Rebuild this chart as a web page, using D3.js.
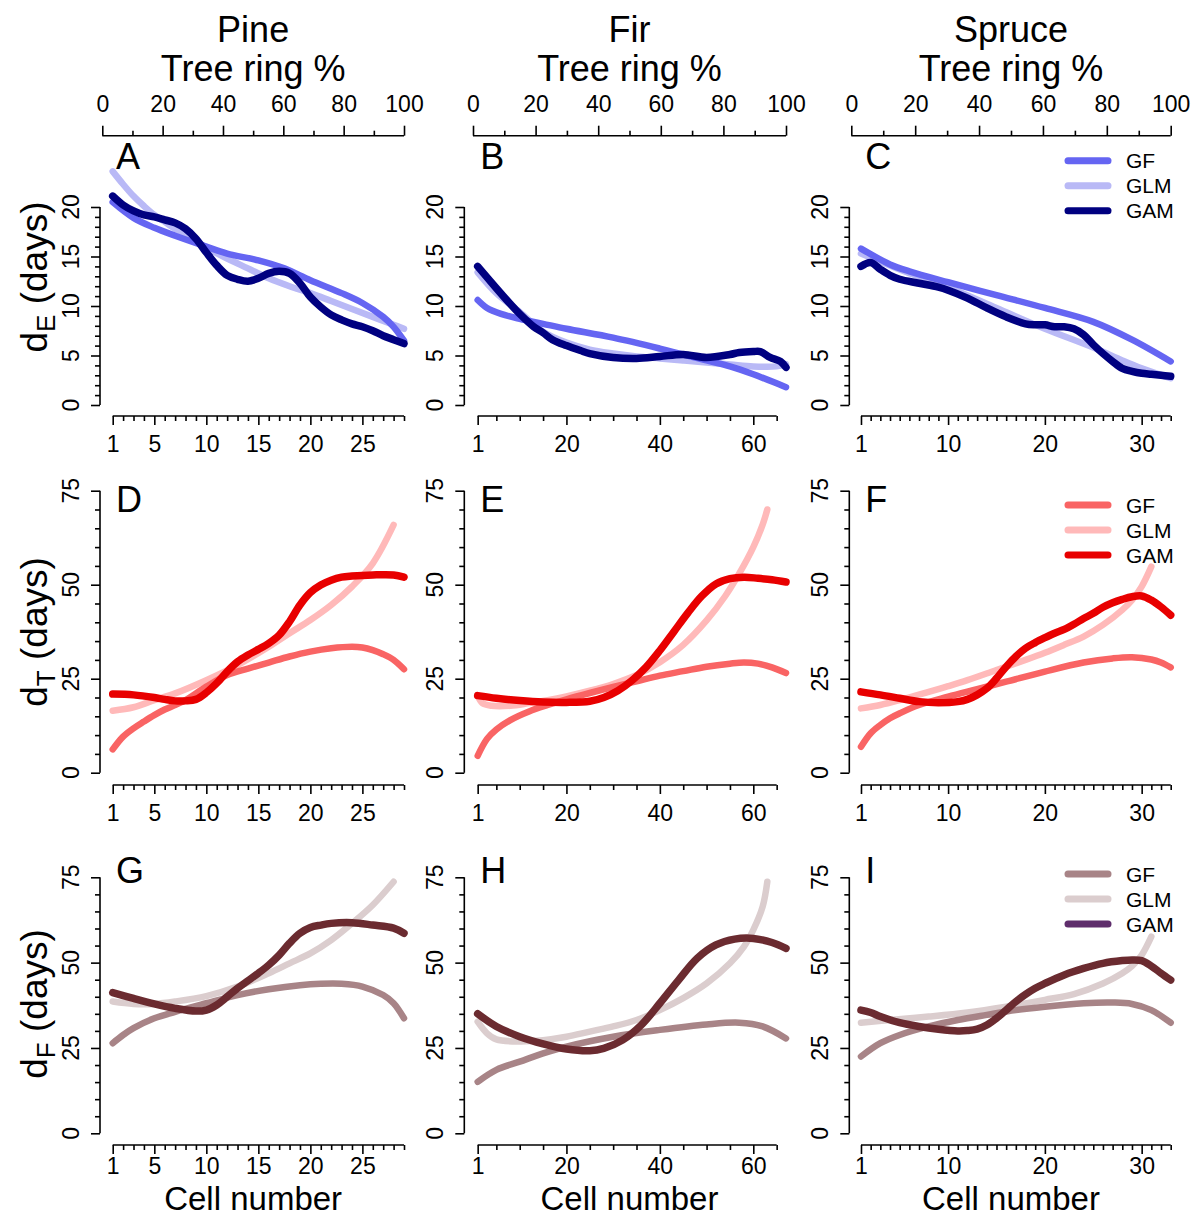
<!DOCTYPE html>
<html><head><meta charset="utf-8">
<script src="https://cdn.jsdelivr.net/npm/d3@7"></script>
<style>
body{margin:0;background:#fff}
svg{display:block}
text{font-family:"Liberation Sans",Arial,Helvetica,sans-serif;fill:#000}
</style>
</head><body>
<svg id="chart" width="1194" height="1218"></svg>
<script>
// ---------- categories / ticks ----------
const species = ["Pine", "Fir", "Spruce"];
const cellCounts = [29, 67, 33];
const panelLetters = [["A","B","C"],["D","E","F"],["G","H","I"]];
const rowVars = ["E", "T", "F"];
const seriesNames = ["GF", "GLM", "GAM"];
const pctMajor = [0, 20, 40, 60, 80, 100];
const pctMinor = [10, 30, 50, 70, 90];
const cellMajor = [[1,5,10,15,20,25],[1,20,40,60],[1,10,20,30]];
const cellMinor = [
  [2,3,4,6,7,8,9,11,12,13,14,16,17,18,19,21,22,23,24,26,27,28,29],
  [5,10,15,25,30,35,45,50,55,65],
  [2,3,4,5,6,7,8,9,11,12,13,14,15,16,17,18,19,21,22,23,24,25,26,27,28,29,31,32,33]
];
const yMajor = [[0,5,10,15,20],[0,25,50,75],[0,25,50,75]];
const yMinor = [
  [1,2,3,4,6,7,8,9,11,12,13,14,16,17,18,19],
  [5,10,15,20,30,35,40,45,55,60,65,70],
  [5,10,15,20,30,35,40,45,55,60,65,70]
];

// ---------- series values [cell, days] ----------
// Row 1: d_E
const pineE_GF  = [[1,20.5],[3,18.9],[5,17.9],[7,17.1],[10,16.0],[12,15.3],[15,14.6],[17.5,13.8],[20,12.6],[23,11.3],[25,10.3],[27,8.9],[28,7.9],[29,6.5]];
const pineE_GLM = [[1,23.6],[2,22.3],[3,21.1],[4,20.1],[5,19.2],[6,18.5],[7,17.8],[8,17.2],[9,16.6],[10,15.9],[12,14.8],[14,13.8],[16,12.8],[18,12.0],[20,11.3],[22,10.5],[24,9.7],[26,8.9],[28,8.1],[29,7.7]];
const pineE_GAM = [[1,21.1],[2,20.2],[3,19.6],[4,19.2],[5,19.0],[6,18.7],[7,18.4],[8,17.8],[9,16.8],[10,15.4],[11,14.1],[12,13.1],[13,12.7],[14,12.5],[15,12.8],[16,13.3],[17,13.5],[18,13.3],[19,12.3],[20,10.9],[21,9.9],[22,9.1],[23,8.6],[24,8.2],[25,7.9],[26,7.5],[27,7.0],[28,6.6],[29,6.2]];

const firE_GF  = [[1,10.6],[3,9.8],[6,9.2],[10,8.7],[15,8.2],[20,7.7],[30,6.8],[40,5.7],[50,4.5],[55,3.9],[60,3.1],[67,1.8]];
const firE_GLM = [[1,13.4],[5,11.3],[10,9.4],[15,7.4],[20,6.3],[25,5.6],[30,5.2],[35,4.9],[40,4.7],[45,4.5],[50,4.3],[55,4.1],[60,3.9],[65,3.9],[67,4.1]];
const firE_GAM = [[1,14.0],[5,11.8],[8,10.2],[10,9.2],[13,7.9],[15,7.3],[17,6.6],[20,6.0],[23,5.5],[25,5.2],[30,4.8],[35,4.7],[40,4.9],[45,5.1],[50,4.8],[55,5.1],[57,5.3],[60,5.4],[61.5,5.4],[63.6,4.8],[65.8,4.4],[67,3.8]];

const spruceE_GF  = [[1,15.8],[4,14.2],[6,13.5],[10,12.4],[15,11.1],[20,9.8],[25,8.4],[29,6.6],[33,4.4]];
const spruceE_GLM = [[1,15.3],[5,13.7],[10,11.9],[15,9.8],[20,7.7],[25,5.8],[28,4.5],[30,3.7],[33,2.7]];
const spruceE_GAM = [[1,14.0],[2,14.4],[3,13.7],[4,13.1],[5,12.7],[7,12.3],[9,11.9],[10,11.6],[12,10.8],[14,9.8],[16,8.9],[18,8.2],[19,8.1],[20,8.1],[21,7.9],[22,7.9],[23,7.7],[24,7.1],[25,6.1],[26,5.2],[27,4.4],[28,3.7],[29,3.4],[30,3.2],[31,3.1],[32,3.0],[33,2.9]];

// Row 2: d_T
const pineT_GF  = [[1,6.2],[2,9.6],[3,11.8],[4,13.6],[5,15.3],[6,16.8],[7,18.0],[8,19.3],[10,22.9],[12,26.0],[14,27.7],[16,29.3],[18,30.9],[20,32.2],[22,33.1],[24,33.5],[25,33.3],[26,32.6],[27,31.5],[28,30.0],[29,27.5]];
const pineT_GLM = [[1,16.5],[3,17.4],[5,19.3],[7,21.1],[10,24.6],[13,28.6],[16,33.5],[18,37.1],[20,40.6],[22,44.6],[24,49.5],[26,55.7],[28,65.9]];
const pineT_GAM = [[1,20.9],[3,20.7],[5,20.0],[6,19.5],[7,19.1],[8,19.1],[9,19.5],[10,21.3],[11,23.8],[12,26.9],[13,29.5],[14,31.3],[15,32.8],[16,34.4],[17,36.6],[18,40.2],[19,44.6],[20,47.9],[21,49.9],[22,51.2],[23,52.0],[24,52.3],[26,52.6],[28,52.6],[29,52.0]];

const firT_GF  = [[1,4.5],[3,9.0],[5,11.5],[8,14.0],[12,16.3],[16,18.0],[20,19.5],[25,21.2],[30,22.8],[35,24.3],[40,25.8],[45,27.0],[50,28.2],[55,29.0],[58,29.3],[61,29.0],[64,28.0],[67,26.5]];
const firT_GLM = [[1,20.5],[2,18.5],[4,17.8],[8,17.8],[12,18.5],[16,19.3],[20,20.3],[25,21.8],[30,23.6],[35,26.0],[40,29.4],[45,34.0],[50,40.5],[54,47.0],[57,53.0],[60,60.0],[62,66.0],[63,70.0]];
const firT_GAM = [[1,20.5],[5,19.8],[10,19.2],[15,18.8],[20,18.7],[25,19.0],[28,20.0],[31,21.8],[34,24.5],[37,28.0],[40,32.5],[43,37.5],[46,42.5],[49,47.0],[52,50.2],[55,51.6],[58,52.0],[61,51.7],[64,51.3],[67,50.7]];

const spruceT_GF  = [[1,6.9],[2,10.5],[3,12.7],[4,14.5],[5,15.8],[7,18.0],[10,20.2],[13,22.2],[16,24.2],[20,26.9],[24,29.3],[27,30.4],[29,30.7],[31,30.1],[32,29.3],[33,28.0]];
const spruceT_GLM = [[1,17.1],[3,18.0],[5,19.3],[8,21.5],[10,23.0],[12,24.6],[15,27.3],[18,30.0],[20,31.9],[22,34.0],[24,36.2],[26,39.3],[28,43.3],[29,45.9],[30,49.5],[31,54.8]];
const spruceT_GAM = [[1,21.5],[3,20.7],[5,19.8],[7,18.9],[9,18.6],[11,18.9],[12,19.5],[13,20.7],[14,22.4],[15,25.1],[16,28.2],[17,30.9],[18,33.1],[19,34.6],[20,35.9],[21,37.1],[22,38.1],[23,39.5],[24,41.0],[25,42.4],[26,44.0],[27,45.2],[28,46.1],[29,46.8],[30,47.0],[31,45.9],[32,44.1],[33,41.9]];

// Row 3: d_F
const pineF_GF  = [[1,26.4],[2,28.8],[3,30.8],[5,33.7],[7,35.6],[10,38.1],[13,40.5],[16,42.2],[19,43.4],[21,43.8],[23,43.8],[25,43.0],[27,40.5],[28,38.1],[29,33.7]];
const pineF_GLM = [[1,38.6],[3,37.9],[5,37.9],[7,38.6],[10,40.2],[13,43.0],[16,46.9],[18,49.8],[20,52.7],[22,56.6],[24,61.5],[26,66.9],[28,73.7]];
const pineF_GAM = [[1,41.2],[3,39.5],[5,37.9],[7,36.6],[9,35.8],[10,36.1],[11,37.6],[12,40.0],[13,42.5],[14,44.7],[15,46.9],[16,49.3],[17,52.2],[18,55.7],[19,58.6],[20,60.3],[21,61.0],[22,61.5],[24,61.7],[26,61.0],[28,60.1],[29,58.6]];

const firF_GF  = [[1,15.1],[5,18.6],[10,21.0],[15,23.4],[20,25.4],[30,28.3],[40,30.3],[50,31.9],[57,32.4],[62,31.3],[67,27.8]];
const firF_GLM = [[1,32.7],[3,29.3],[5,27.5],[10,26.9],[15,27.3],[20,28.3],[25,29.8],[30,31.3],[35,33.2],[40,36.1],[45,39.6],[50,43.9],[55,49.8],[58,54.7],[60,59.6],[62,66.4],[63,73.7]];
const firF_GAM = [[1,35.0],[5,31.3],[10,28.3],[15,26.2],[20,24.7],[25,24.2],[28,24.9],[32,27.3],[36,31.7],[40,38.1],[44,44.9],[48,51.3],[52,55.2],[56,56.9],[60,57.1],[64,55.9],[67,54.2]];

const spruceF_GF  = [[1,22.5],[3,26.4],[5,28.8],[8,31.3],[11,33.2],[14,34.7],[17,36.1],[20,37.1],[24,38.1],[27,38.3],[29,37.9],[31,36.1],[33,32.4]];
const spruceF_GLM = [[1,32.4],[4,33.2],[8,34.2],[12,35.4],[16,37.1],[20,39.1],[23,40.8],[26,43.9],[28,46.9],[29,49.0],[30,52.2],[31,57.6]];
const spruceF_GAM = [[1,36.1],[2,35.4],[3,34.2],[5,32.4],[7,31.3],[9,30.5],[11,30.0],[12,30.1],[13,30.5],[14,31.7],[15,33.7],[16,36.1],[17,38.6],[18,40.7],[19,42.5],[20,43.9],[22,46.4],[24,48.3],[26,49.8],[28,50.6],[29,50.8],[30,50.6],[31,49.0],[32,46.9],[33,44.9]];

const panelSeries = [
  [[pineE_GF,pineE_GLM,pineE_GAM],[firE_GF,firE_GLM,firE_GAM],[spruceE_GF,spruceE_GLM,spruceE_GAM]],
  [[pineT_GF,pineT_GLM,pineT_GAM],[firT_GF,firT_GLM,firT_GAM],[spruceT_GF,spruceT_GLM,spruceT_GAM]],
  [[pineF_GF,pineF_GLM,pineF_GAM],[firF_GF,firF_GLM,firF_GAM],[spruceF_GF,spruceF_GLM,spruceF_GAM]]
];

// ---------- styles ----------
const rowColors = [
  ["#6565f2", "#b9b9f6", "#000080"],
  ["#f96464", "#ffb9b9", "#e80000"],
  ["#a88487", "#dbcdce", "#6b2b30"]
];
const legendColors = [
  ["#6565f2", "#b9b9f6", "#000080"],
  ["#f96464", "#ffb9b9", "#e80000"],
  ["#a88487", "#dbcdce", "#5f2e6c"]
];
const lineWidths = [6.5, 6.5, 7.5];

// ---------- layout ----------
const colRange = [[102.3, 404], [473.0, 786.0], [851.3, 1170.7]];
const yAxisX = [100, 464.3, 849.3];
const rowPix = [[405, 207], [772.7, 490.7], [1133.3, 877.3]];
const xAxisY = [416, 785, 1145];
const xLabPad = [11, 11, 4];
const topAxisY = 135.7;
const titleY = [277, 632, 1004];
const letterY = [169, 512, 883];
const legendY = [160.7, 505, 874];

const svg = d3.select("#chart");
const FONT = '"Liberation Sans",Arial,Helvetica,sans-serif';

const xScales = species.map((s, i) => d3.scaleLinear().domain([0, cellCounts[i]]).range(colRange[i]));
const pScales = species.map((s, i) => d3.scaleLinear().domain([0, 100]).range(colRange[i]));
const yScales = rowPix.map((p, r) => d3.scaleLinear().domain([0, yMajor[r][yMajor[r].length - 1]]).range(p));

// ---------- column titles and top axes ----------
species.forEach((sp, c) => {
  const ps = pScales[c];
  const cx = (colRange[c][0] + colRange[c][1]) / 2;
  svg.append("text").attr("x", cx).attr("y", 42).attr("text-anchor", "middle")
    .attr("font-size", 36).text(sp);
  svg.append("text").attr("x", cx).attr("y", 81).attr("text-anchor", "middle")
    .attr("font-size", 36).text("Tree ring %");
  const gTop = svg.append("g").attr("transform", `translate(0,${topAxisY})`);
  gTop.call(d3.axisTop(ps).tickValues(pctMinor).tickSize(5).tickFormat(""));
  gTop.call(g => g.select(".domain").remove());
  const gTop2 = svg.append("g").attr("transform", `translate(0,${topAxisY})`);
  gTop2.call(d3.axisTop(ps).tickValues(pctMajor).tickSize(10).tickSizeOuter(0).tickPadding(14));
  gTop2.select(".domain").attr("d", `M${ps(0)},0H${ps(100)}`);
  gTop2.selectAll("text").attr("font-size", 23).attr("font-family", FONT).attr("fill", "#000");
  gTop.selectAll("line").attr("stroke-width", 1.6);
  gTop2.selectAll("line,path").attr("stroke-width", 1.6);
});

// ---------- panels ----------
for (let r = 0; r < 3; r++) {
  const ys = yScales[r];
  for (let c = 0; c < 3; c++) {
    const xs = xScales[c];
    const g = svg.append("g");

    // y axis
    const gy = g.append("g").attr("transform", `translate(${yAxisX[c]},0)`);
    gy.call(d3.axisLeft(ys).tickValues(yMinor[r]).tickSize(5).tickFormat(""));
    gy.select(".domain").remove();
    const gy2 = g.append("g").attr("transform", `translate(${yAxisX[c]},0)`);
    gy2.call(d3.axisLeft(ys).tickValues(yMajor[r]).tickSize(9).tickSizeOuter(0).tickFormat(""));
    gy2.select(".domain").attr("d", `M0,${ys(0)}V${ys(yMajor[r][yMajor[r].length-1])}`);
    yMajor[r].forEach(v => {
      g.append("text")
        .attr("transform", `translate(${yAxisX[c] - 21},${ys(v)}) rotate(-90)`)
        .attr("text-anchor", "middle").attr("font-size", 23).text(v);
    });

    // x axis (bottom)
    const ax = xAxisY[r];
    const gx = g.append("g").attr("transform", `translate(0,${ax})`);
    gx.call(d3.axisBottom(xs).tickValues(cellMinor[c]).tickSize(5).tickFormat(""));
    gx.select(".domain").remove();
    const gx2 = g.append("g").attr("transform", `translate(0,${ax})`);
    gx2.call(d3.axisBottom(xs).tickValues(cellMajor[c]).tickSize(9).tickSizeOuter(0).tickPadding(xLabPad[r]));
    const lastTick = d3.max(cellMinor[c].concat(cellMajor[c]));
    gx2.select(".domain").attr("d", `M${xs(1)},0H${xs(lastTick)}`);
    gx2.selectAll("text").attr("font-size", 23).attr("font-family", FONT).attr("fill", "#000");

    g.selectAll("line,path").attr("stroke-width", 1.6).attr("stroke", "#000");

    // panel letter
    g.append("text").attr("x", yAxisX[c] + 16).attr("y", letterY[r])
      .attr("font-size", 36).text(panelLetters[r][c]);

    // curves
    const line = d3.line().x(d => xs(d[0])).y(d => ys(d[1])).curve(d3.curveCatmullRom.alpha(0.5));
    const order = [1, 0, 2];
    order.forEach(si => {
      g.append("path").datum(panelSeries[r][c][si])
        .attr("d", line).attr("fill", "none")
        .attr("stroke", rowColors[r][si]).attr("stroke-width", lineWidths[si])
        .attr("stroke-linecap", "round").attr("stroke-linejoin", "round");
    });
  }

  // y-axis title (row)
  const t = svg.append("text")
    .attr("transform", `translate(47,${titleY[r]}) rotate(-90)`)
    .attr("text-anchor", "middle").attr("font-size", 37);
  t.append("tspan").text("d");
  t.append("tspan").attr("font-size", 26).attr("dy", 8).text(rowVars[r]);
  t.append("tspan").attr("dy", -8).text(" (days)");

  // legend (right column)
  seriesNames.forEach((nm, i) => {
    const ly = legendY[r] + i * 25;
    svg.append("line").attr("x1", 1068).attr("x2", 1108).attr("y1", ly).attr("y2", ly)
      .attr("stroke", legendColors[r][i]).attr("stroke-width", 7).attr("stroke-linecap", "round");
    svg.append("text").attr("x", 1126).attr("y", ly).attr("dy", "0.36em")
      .attr("font-size", 21).text(nm);
  });
}

// x-axis titles
species.forEach((sp, c) => {
  const cx = (colRange[c][0] + colRange[c][1]) / 2;
  svg.append("text").attr("x", cx).attr("y", 1210).attr("text-anchor", "middle")
    .attr("font-size", 33).text("Cell number");
});
</script>
</body></html>
